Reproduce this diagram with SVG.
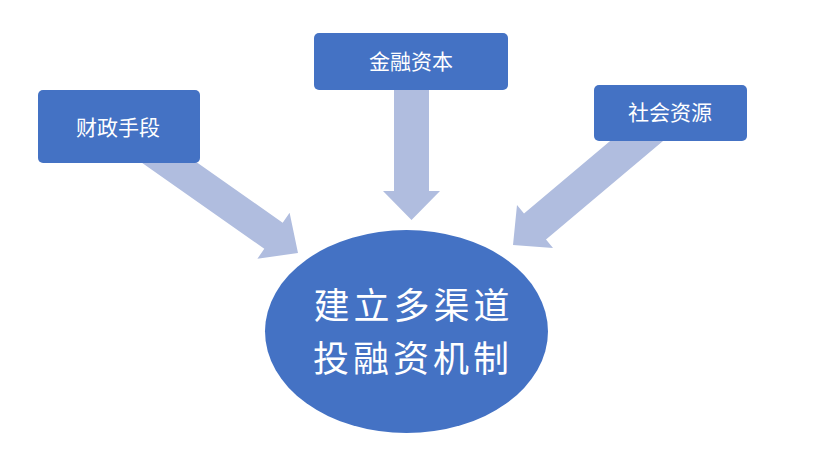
<svg xmlns="http://www.w3.org/2000/svg" width="816" height="458" viewBox="0 0 816 458">
<style>
.box{fill:#4472C4}
.arrow{fill:#B0BDDF}
.lbl{fill:#fff;font-family:"Noto Sans CJK SC","Microsoft YaHei",sans-serif;font-size:21px;text-anchor:middle}
.big{fill:#fff;font-family:"Noto Sans CJK SC","Microsoft YaHei",sans-serif;font-size:36px;letter-spacing:4px;text-anchor:middle}
</style>
<rect width="816" height="458" fill="#fff"/>
<g id="connectors">
<polygon class="arrow" points="140.8,162 264.3,248.8 257.4,258.7 298,253 289.6,212.8 282.7,222.7 196.3,162"/>
<polygon class="arrow" points="394,89 429,89 429,191 440,191 411.5,220 383,191 394,191"/>
<polygon class="arrow" points="611.3,140 524,213.5 517,205 513,245 553,248 546,239.5 664.2,140"/>
</g>
<g id="node-caizheng">
<rect class="box" x="38" y="90" width="162" height="73" rx="5"/>
<text class="lbl" x="118" y="134.5">财政手段</text>
</g>
<g id="node-jinrong">
<rect class="box" x="314" y="33" width="194" height="57" rx="5"/>
<text class="lbl" x="411" y="69">金融资本</text>
</g>
<g id="node-shehui">
<rect class="box" x="594" y="85" width="153" height="56" rx="5"/>
<text class="lbl" x="670" y="120">社会资源</text>
</g>
<g id="node-center">
<ellipse class="box" cx="406.5" cy="331.5" rx="141.5" ry="101.5"/>
<text class="big" x="413.5" y="319">建立多渠道</text>
<text class="big" x="413" y="372">投融资机制</text>
</g>
</svg>
